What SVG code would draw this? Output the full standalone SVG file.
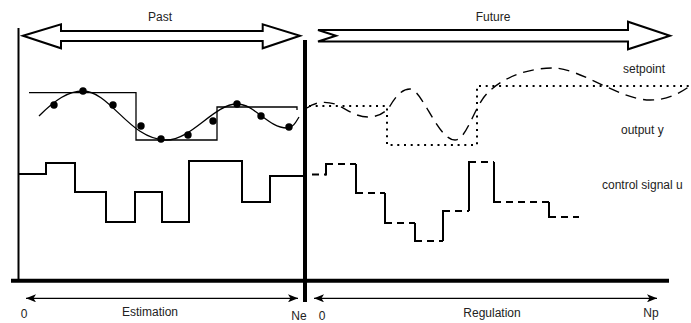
<svg xmlns="http://www.w3.org/2000/svg" width="691" height="323" viewBox="0 0 691 323">
<style>
text{font-family:"Liberation Sans",Arial,sans-serif;font-size:12px;fill:#222}
.blk{fill:#fff;stroke:#000;stroke-width:2;stroke-linejoin:miter}
.thin{fill:none;stroke:#000;stroke-width:1.3}
.ctl{fill:none;stroke:#000;stroke-width:2}
.dot{fill:#000}
.fdot{fill:none;stroke:#000;stroke-width:2;stroke-dasharray:2 4.7}
.fdash{fill:none;stroke:#000;stroke-width:1.4;stroke-dasharray:11 7}
.cdash{fill:none;stroke:#000;stroke-width:2;stroke-dasharray:7 5}
.ax{fill:none;stroke:#000;stroke-width:1.3}
</style>
<defs>
<marker id="ah" viewBox="0 0 10 8" refX="10" refY="4" markerWidth="10" markerHeight="8" markerUnits="userSpaceOnUse" orient="auto-start-reverse">
<path d="M0,0 L10,4 L0,8 L2.5,4 Z" fill="#000"/>
</marker>
</defs>
<g id="frame">
<line x1="18.5" y1="28" x2="18.5" y2="281" stroke="#000" stroke-width="2"/>
<line x1="305" y1="40" x2="305" y2="302" stroke="#000" stroke-width="4"/>
<line x1="11" y1="280.7" x2="669" y2="280.7" stroke="#000" stroke-width="4"/>
</g>
<g id="past-arrow">
<polygon class="blk" points="23,35.7 61,24.3 61,31 262.7,31 262.7,24.3 300,35.7 262.7,48.3 262.7,41 61,41 61,48.3"/>
<text x="160" y="21" text-anchor="middle">Past</text>
</g>
<g id="future-arrow">
<polygon class="blk" points="318,30 628,30 628,21.7 670,35.7 628,49.3 628,41.5 318,41.5 336,35.7"/>
<text x="493" y="21" text-anchor="middle">Future</text>
</g>
<g id="past-setpoint">
<path class="thin" d="M29,92.7 H136 V140 H217 V107 H297 V110"/>
</g>
<g id="past-output">
<path class="thin" d="M39,116 C55,100 68,91 83,91 C110,91 130,140 166,140 C192,140 214,104 237,104 C255,104 268,128 287,128 C293,128 296,122 299,117"/>
<circle class="dot" cx="54" cy="105" r="3.7"/>
<circle class="dot" cx="83" cy="91" r="3.7"/>
<circle class="dot" cx="113" cy="105" r="3.7"/>
<circle class="dot" cx="141" cy="126" r="3.7"/>
<circle class="dot" cx="161" cy="139" r="3.7"/>
<circle class="dot" cx="188" cy="135" r="3.7"/>
<circle class="dot" cx="213" cy="121" r="3.7"/>
<circle class="dot" cx="237" cy="104" r="3.7"/>
<circle class="dot" cx="261" cy="116" r="3.7"/>
<circle class="dot" cx="289" cy="127" r="3.7"/>
</g>
<g id="past-control">
<path class="ctl" d="M19,174 H46 V163 H75 V192 H106 V222 H135 V192 H162 V222 H189 V161 H242 V202 H270 V176 H303"/>
</g>
<g id="future-setpoint">
<path class="fdot" d="M309,106 H387 V145 H477 V86 H690"/>
</g>
<g id="future-output">
<path class="fdash" d="M307,108 C315,102 325,101 335,104 C345,108 355,117 368,117 C378,117 385,113 390,106 C396,96 402,89 410,89 C422,89 438,140 455,140 C465,140 472,115 482,100 C492,84 520,68 553,68 C580,68 620,100 650,100 C668,100 680,93 690,86"/>
</g>
<g id="future-control">
<path class="cdash" d="M312,174.5 H326 M326,164 H356 M356,193 H385 M385,223 H415 M415,241 H443 M443,211 H469 M469,162 H494 M494,202 H549 M549,217 H579"/>
<path class="ctl" d="M326,175.5 V164 H330 M356,164 V193 H360 M385,193 V223 H389 M415,223 V241 H419 M443,241 V211 H447 M469,211 V162 H473 M494,162 V202 H498 M549,202 V217 H553"/>
</g>
<g id="labels">
<text x="623" y="73">setpoint</text>
<text x="621" y="133.5">output y</text>
<text x="602" y="189">control signal u</text>
</g>
<g id="connectors">
<line class="ax" x1="26" y1="298.3" x2="298" y2="298.3" marker-start="url(#ah)" marker-end="url(#ah)"/>
<line class="ax" x1="314" y1="298.3" x2="657" y2="298.3" marker-start="url(#ah)" marker-end="url(#ah)"/>
</g>
<g id="axis-labels">
<text x="24" y="318" text-anchor="middle">0</text>
<text x="150" y="316" text-anchor="middle">Estimation</text>
<text x="299" y="320" text-anchor="middle">Ne</text>
<text x="322" y="320" text-anchor="middle">0</text>
<text x="492" y="317" text-anchor="middle">Regulation</text>
<text x="651" y="316.5" text-anchor="middle">Np</text>
</g>
</svg>
